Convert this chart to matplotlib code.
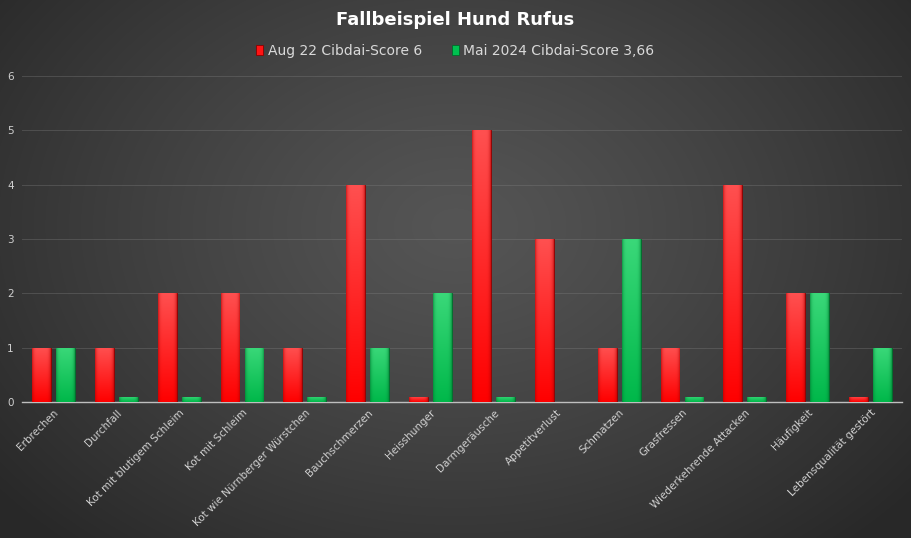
import matplotlib
matplotlib.use("Agg")
import matplotlib.pyplot as plt
import numpy as np

categories = ["Erbrechen", "Durchfall", "Kot mit blutigem Schleim", "Kot mit Schleim",
              "Kot wie Nürnberger Würstchen", "Bauchschmerzen", "Heisshunger", "Darmgeräusche",
              "Appetitverlust", "Schmatzen", "Grasfressen", "Wiederkehrende Attacken",
              "Häufigkeit", "Lebensqualität gestört"]
aug22 = [1, 1, 2, 2, 1, 4, 0.1, 5, 3, 1, 1, 4, 2, 0.1]
mai2024 = [1, 0.1, 0.1, 1, 0.1, 1, 2, 0.1, 0, 3, 0.1, 0.1, 2, 1]
series_names = ["Aug 22 Cibdai-Score 6", "Mai 2024 Cibdai-Score 3,66"]
yticks = [0, 1, 2, 3, 4, 5, 6]

W, H = 911, 538
fig = plt.figure(figsize=(W / 100, H / 100), dpi=100)

# radial gradient background
bg = fig.add_axes([0, 0, 1, 1], zorder=-10)
yy, xx = np.mgrid[0:H, 0:W]
r = np.sqrt(((xx - W * 0.5) / (W * 0.65)) ** 2 + ((yy - H * 0.42) / (H * 0.8)) ** 2)
r = np.clip(r, 0, 1) ** 1.2
c0 = np.array([0x55, 0x55, 0x55]) / 255
c1 = np.array([0x28, 0x28, 0x28]) / 255
img = c0[None, None, :] * (1 - r[..., None]) + c1[None, None, :] * r[..., None]
bg.imshow(img, aspect="auto", extent=[0, 1, 0, 1])
bg.axis("off")

ax = fig.add_axes([22 / W, 1 - 402 / H, 880 / W, (402 - 76) / H])
ax.patch.set_alpha(0)
x = np.arange(len(categories))
bw = 0.30
off = 0.19
b1 = ax.bar(x - off, aug22, bw, color="#ff1414", edgecolor="#8a0000", linewidth=0.6,
            label=series_names[0], zorder=3)
b2 = ax.bar(x + off, mai2024, bw, color="#00c050", edgecolor="#006a2a", linewidth=0.6,
            label=series_names[1], zorder=3)

# vertical gradient (lighter at top) with slightly darker sides
def shade(bars, top_c, bot_c, side_c):
    top_c, bot_c, side_c = [np.array(matplotlib.colors.to_rgb(c)) for c in (top_c, bot_c, side_c)]
    v = np.linspace(0, 1, 80)[:, None, None]
    col = bot_c[None, None, :] * (1 - v) + top_c[None, None, :] * v
    t = np.linspace(-1, 1, 30)
    w = (np.abs(t) ** 6)[None, :, None] * 0.6
    grad = col * (1 - w) + side_c[None, None, :] * w
    for b in bars:
        if b.get_height() <= 0:
            continue
        x0, y0 = b.get_x(), b.get_y()
        im = ax.imshow(grad, extent=[x0, x0 + b.get_width(), y0, y0 + b.get_height()],
                       aspect="auto", origin="lower", zorder=3.5, interpolation="bilinear")
        im.set_clip_path(b)

shade(b1, "#ff5050", "#ff0000", "#b00000")
shade(b2, "#3ad879", "#00b84a", "#007a30")

ax.set_xlim(-0.5, len(categories) - 0.5)
ax.set_ylim(0, 6)
ax.set_yticks(yticks)
ax.set_yticklabels([str(t) for t in yticks], color="#d0d0d0", fontsize=7.5)
ax.set_xticks(x)
ax.set_xticklabels(categories, rotation=45, ha="right", rotation_mode="anchor",
                   color="#d0d0d0", fontsize=7.5)
ax.tick_params(axis="both", length=0, pad=6)
ax.tick_params(axis="x", pad=4)
for s in ["top", "right", "left"]:
    ax.spines[s].set_visible(False)
ax.spines["bottom"].set_color("#bfbfbf")
ax.spines["bottom"].set_linewidth(1.0)
ax.grid(axis="y", color="#808080", linewidth=0.7, alpha=0.35, zorder=0)
ax.set_axisbelow(True)

fig.text(0.5, 1 - 20 / H, "Fallbeispiel Hund Rufus", ha="center", va="center",
         color="white", fontsize=13, fontweight="bold")
leg = fig.legend(loc="center", bbox_to_anchor=(0.5, 1 - 51 / H), ncol=2, frameon=False,
                 fontsize=10, handlelength=0.5, handleheight=0.8, columnspacing=2.2,
                 handletextpad=0.3)
for t in leg.get_texts():
    t.set_color("#d9d9d9")

fig.savefig("out.png", dpi=100)
